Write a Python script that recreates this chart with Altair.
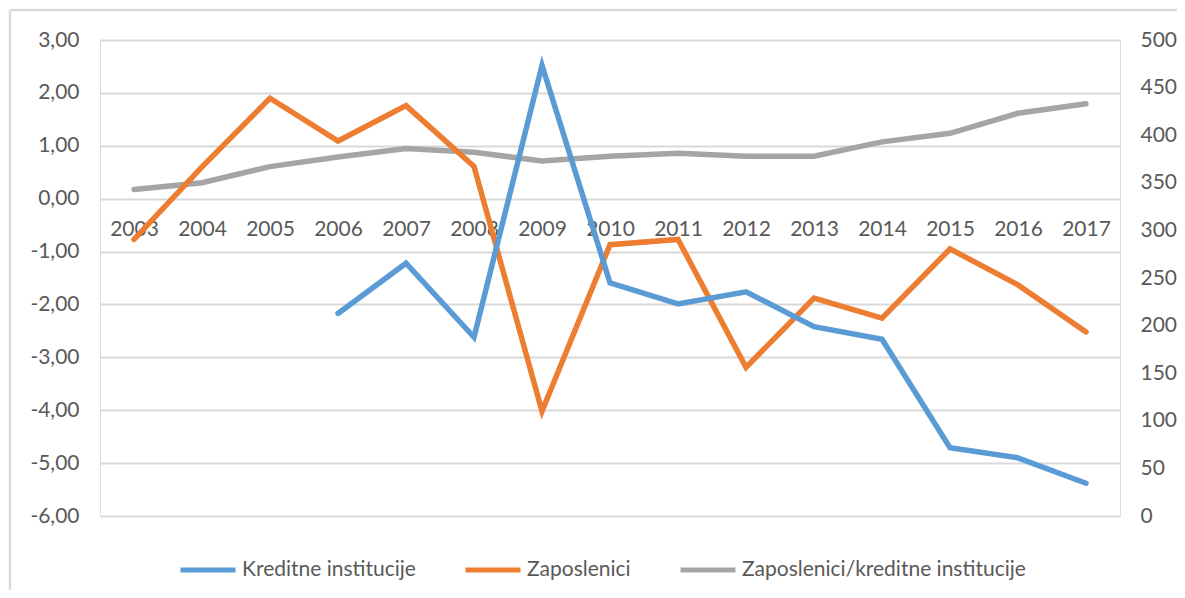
import altair as alt
import pandas as pd

years = [str(y) for y in range(2003, 2018)]
kreditne = [None, None, None, -2.17, -1.22, -2.62, 2.52, -1.59, -1.99, -1.76, -2.42, -2.66, -4.71, -4.90, -5.38]
zaposlenici = [-0.77, 0.60, 1.90, 1.09, 1.76, 0.61, -4.02, -0.87, -0.77, -3.19, -1.88, -2.26, -0.95, -1.63, -2.52]
omjer = [343, 350, 367, 377, 386, 382, 373, 378, 381, 378, 378, 393, 402, 423, 433]

series_names = ["Kreditne institucije", "Zaposlenici", "Zaposlenici/kreditne institucije"]
colors = ["#5B9BD5", "#ED7D31", "#A5A5A5"]
left_ticks = list(range(-6, 4))
right_ticks = list(range(0, 501, 50))

rows = []
for i, yr in enumerate(years):
    if kreditne[i] is not None:
        rows.append({"year": yr, "series": series_names[0], "value": kreditne[i]})
    rows.append({"year": yr, "series": series_names[1], "value": zaposlenici[i]})
    rows.append({"year": yr, "series": series_names[2], "value": omjer[i]})
df = pd.DataFrame(rows)

FONT = "Lato"
TXT = "#595959"
GRID = "#D9D9D9"

x_enc = alt.X(
    "year:O",
    sort=years,
    scale=alt.Scale(type="point", padding=0.5),
    axis=alt.Axis(
        title=None, orient="bottom", offset=-317.3, domain=False, ticks=False,
        labelAngle=0, labelPadding=20, labelFont=FONT, labelFontSize=21,
        labelColor=TXT, grid=False,
    ),
)

color_enc = alt.Color(
    "series:N",
    scale=alt.Scale(domain=series_names, range=colors),
    legend=alt.Legend(
        title=None, orient="none", direction="horizontal", legendX=78, legendY=500,
        symbolType="stroke", symbolSize=3025, symbolStrokeWidth=5,
        labelFont=FONT, labelFontSize=21, labelColor=TXT, labelLimit=500,
        columnPadding=39, labelOffset=4, padding=0,
    ),
)

gray = (
    alt.Chart(df)
    .transform_filter(alt.FieldEqualPredicate(field="series", equal=series_names[2]))
    .mark_line(strokeWidth=5.5, strokeCap="round")
    .encode(
        x=x_enc,
        y=alt.Y(
            "value:Q",
            scale=alt.Scale(domain=[0, 500], nice=False, zero=False),
            axis=alt.Axis(
                title=None, orient="right", values=right_ticks, domain=False, ticks=False,
                grid=False, labelPadding=20, labelFont=FONT, labelFontSize=21,
                labelColor=TXT, labelAlign="left",
            ),
        ),
        color=color_enc,
    )
)

left = (
    alt.Chart(df)
    .transform_filter(alt.FieldOneOfPredicate(field="series", oneOf=series_names[:2]))
    .mark_line(strokeWidth=5.5, strokeCap="round")
    .encode(
        x=x_enc,
        y=alt.Y(
            "value:Q",
            scale=alt.Scale(domain=[-6, 3], nice=False, zero=False),
            axis=alt.Axis(
                title=None, orient="left", values=left_ticks, domain=False, ticks=False,
                grid=True, gridColor=GRID, gridWidth=2, labelPadding=21,
                labelFont=FONT, labelFontSize=21, labelColor=TXT,
                labelExpr="replace(replace(format(datum.value, '.2f'), '.', ','), '\u2212', '-')",
            ),
        ),
        color=color_enc,
    )
)

frame_df = pd.DataFrame({"k": [0]})
frame_top = alt.Chart(frame_df).mark_rule(color=GRID, strokeWidth=2.5).encode(
    x=alt.value(-90), x2=alt.value(1083), y=alt.value(-30)
)
frame_left = alt.Chart(frame_df).mark_rule(color=GRID, strokeWidth=2.5).encode(
    x=alt.value(-90), y=alt.value(-30), y2=alt.value(570)
)

chart = (
    alt.layer(frame_top, frame_left, gray, left)
    .resolve_scale(y="independent")
    .properties(
        width=1020, height=476,
        padding={"left": 92, "top": 32, "right": 57, "bottom": 74},
        autosize=alt.AutoSizeParams(type="none"),
    )
    .configure_view(stroke=None)
    .configure(background="white")
)

chart.save("out.html", embed_options={"renderer": "svg", "actions": False})
